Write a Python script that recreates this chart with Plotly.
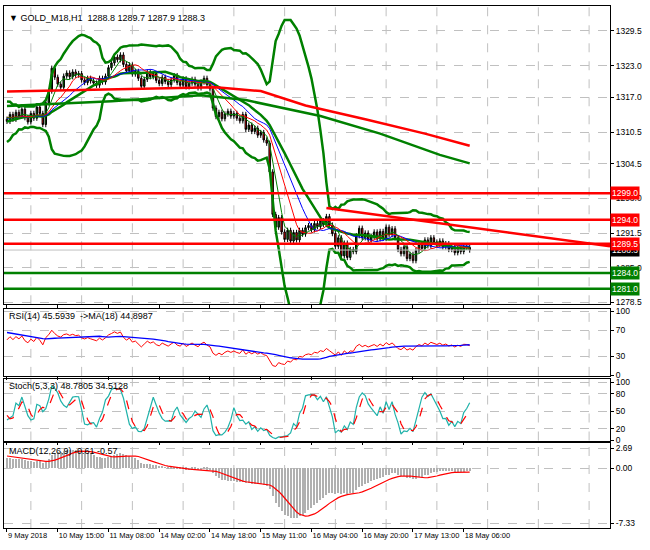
import numpy as np
import pandas as pd
import plotly.graph_objects as go
from plotly.subplots import make_subplots

history = [1306.0,1307.2,1306.5,1308.3,1309.0,1308.1,1310.2,1309.5,1311.0,1310.4,1312.2,1311.6,1313.0,1312.1,
           1313.5,1312.8,1314.0,1313.2,1312.6,1313.9,1313.0,1314.1,1312.8,1313.6,1312.9]
closes = [1312.5,1313.8,1312.9,1314.2,1313.5,1314.8,1313.2,1312.4,1314.0,1313.1,
          1315.2,1314.0,1311.9,1316.0,1318.2,1322.5,1320.8,
          1319.5,1318.9,1321.0,1321.6,1320.9,1321.8,1321.2,1321.5,1320.3,1319.8,1320.6,1320.1,1319.7,1319.3,1320.6,1319.9,1321.0,1322.6,
          1323.5,1324.6,1324.1,1325.0,1323.2,1322.0,1323.1,
          1321.4,1321.9,1320.6,1319.1,1320.4,1321.8,1320.9,
          1321.5,1320.2,1319.6,1320.8,1320.0,1319.4,1320.3,1321.1,1319.8,1319.3,1320.5,1319.0,1319.7,1320.4,1319.5,1318.8,1319.9,1320.6,1319.4,1318.6,
          1315.0,1313.4,1314.2,1313.0,1313.9,1314.4,1313.5,1314.0,1313.1,1312.6,1313.8,
          1311.0,1311.8,1310.6,1311.2,1309.9,1310.4,1309.0,1308.4,
          1303.0,1295.0,1292.6,1294.4,1291.7,1290.3,1292.0,1290.0,
          1291.6,1290.2,1292.0,1291.3,1292.5,1292.9,1292.1,1293.3,1292.7,1293.8,1293.1,
          1294.6,1293.0,
          1291.4,1289.0,1290.6,1287.2,1289.6,1286.9,1288.4,1288.0,
          1291.0,1292.4,1290.6,1291.5,1290.2,1290.8,1291.7,1290.4,1291.8,1290.5,1292.6,1291.2,1292.3,1290.6,
          1288.4,1287.6,1288.9,1286.7,1287.5,1286.3,1288.2,
          1289.4,1288.6,1290.2,1289.1,1290.6,1289.8,
          1289.3,1290.0,1288.9,1289.5,1288.4,1288.9,1287.8,1288.6,1288.0,1288.9,1288.8,1288.3]

ma200_x = [0,40,70,85,100,120,140,155]
ma200_y = [1318.1,1318.5,1318.9,1318.2,1315.5,1312.9,1310.2,1307.9]
ma100_x = [0,35,65,80,105,125,145,155]
ma100_y = [1315.4,1316.3,1317.4,1316.5,1313.5,1310.2,1306.2,1304.6]

red_levels = [1299.0,1294.0,1289.5]
green_levels = [1284.0,1281.0]
last_price = 1288.3
trend_x = [107, 202]
trend_y = [1296.2, 1289.0]

tick_pos = [0,17,34,51,68,85,102,119,136,153]
tick_txt = ["9 May 2018","10 May 15:00","11 May 08:00","14 May 02:00","14 May 18:00",
            "15 May 11:00","16 May 04:00","16 May 20:00","17 May 13:00","18 May 06:00"]
grid_pos = [8,25,42,59,76,93,110,127,144,161,178,195]
price_ticks = [1329.5,1323.0,1317.0,1310.5,1304.5,1298.0,1291.5,1285.0,1278.5]

H = len(history)
allc = pd.Series(history + closes)
opens = allc.shift(1).fillna(allc.iloc[0])
highs = np.maximum(opens, allc) + 0.5
lows = np.minimum(opens, allc) - 0.5
N = len(closes)
x = np.arange(N)
sl = slice(H, H + N)

sma = lambda s, n: s.rolling(n, min_periods=1).mean()
ma5, ma10, ma15 = sma(allc, 5), sma(allc, 10), sma(allc, 15)
mid = allc.rolling(20, min_periods=5).mean()
sd = allc.rolling(20, min_periods=5).std(ddof=0)
up, lo = mid + 3 * sd, mid - 3 * sd

d = allc.diff().fillna(0)
g = d.clip(lower=0).ewm(alpha=1/14, adjust=False).mean()
l = (-d.clip(upper=0)).ewm(alpha=1/14, adjust=False).mean()
rsi = 100 - 100 / (1 + g / l.replace(0, 1e-9))
rsima = sma(rsi, 18)

hh = highs.rolling(5, min_periods=1).max(); ll = lows.rolling(5, min_periods=1).min()
k = sma(allc - ll, 3) / sma(hh - ll, 3) * 100
dd = sma(k, 3)

macd = allc.ewm(span=12, adjust=False).mean() - allc.ewm(span=26, adjust=False).mean()
sig = sma(macd, 9)

fig = make_subplots(rows=4, cols=1, shared_xaxes=True)
fig.add_trace(go.Candlestick(x=x, open=opens[sl], high=highs[sl], low=lows[sl], close=allc[sl],
    increasing=dict(line=dict(color="black", width=1), fillcolor="#008000"),
    decreasing=dict(line=dict(color="black", width=1), fillcolor="#ff0000"), whiskerwidth=0), 1, 1)
for ser, c, w in [(up, "green", 2.5), (mid, "green", 2.5), (lo, "green", 2.5),
                  (ma15, "blue", 1), (ma10, "red", 1), (ma5, "green", 1)]:
    fig.add_trace(go.Scatter(x=x, y=ser[sl], mode="lines", line=dict(color=c, width=w)), 1, 1)
fig.add_trace(go.Scatter(x=ma200_x, y=ma200_y, mode="lines", line=dict(color="red", width=2.5)), 1, 1)
fig.add_trace(go.Scatter(x=ma100_x, y=ma100_y, mode="lines", line=dict(color="green", width=2.5)), 1, 1)
fig.add_trace(go.Scatter(x=trend_x, y=trend_y, mode="lines", line=dict(color="red", width=2.5)), 1, 1)

fig.add_trace(go.Scatter(x=x, y=rsi[sl], mode="lines", line=dict(color="red", width=1)), 2, 1)
fig.add_trace(go.Scatter(x=x, y=rsima[sl], mode="lines", line=dict(color="blue", width=1.3)), 2, 1)
fig.add_trace(go.Scatter(x=x, y=k[sl], mode="lines", line=dict(color="#20b2aa", width=1.2)), 3, 1)
fig.add_trace(go.Scatter(x=x, y=dd[sl], mode="lines", line=dict(color="red", width=1.2, dash="dash")), 3, 1)
fig.add_trace(go.Bar(x=x, y=macd[sl], marker=dict(color="#b0b0b0", line=dict(width=0)), width=0.35), 4, 1)
fig.add_trace(go.Scatter(x=x, y=sig[sl], mode="lines", line=dict(color="red", width=1.2)), 4, 1)

for i in range(4):
    n = "" if i == 0 else str(i + 1)
    for gp in grid_pos:
        fig.add_shape(type="line", xref="x" + n, x0=gp, x1=gp, yref="y" + n + " domain", y0=0, y1=1,
                      line=dict(color="#c0c0c0", width=1, dash="dash"), layer="below")

for lv in red_levels:
    fig.add_shape(type="line", xref="x domain", x0=0, x1=1, yref="y", y0=lv, y1=lv, line=dict(color="red", width=2.5))
for lv in green_levels:
    fig.add_shape(type="line", xref="x domain", x0=0, x1=1, yref="y", y0=lv, y1=lv, line=dict(color="green", width=2.5))
fig.add_shape(type="line", xref="x domain", x0=0, x1=1, yref="y", y0=last_price, y1=last_price, line=dict(color="#c0c0c0", width=1))

FAM = "Liberation Sans"
FS = 8.5
font = dict(family=FAM, size=FS, color="black")
def box(v, bg):
    fig.add_annotation(x=1.0, xref="paper", xanchor="left", y=v, yref="y", text=f"{v:.1f}", showarrow=False,
                       bgcolor=bg, font=dict(family=FAM, size=FS, color="white"), borderpad=1)
box(last_price, "black")
for lv in red_levels: box(lv, "red")
for lv in green_levels: box(lv, "green")

for txt, yr, yv in [("▼ GOLD_M18,H1  1288.8 1289.7 1287.9 1288.3", "y", 1332.0),
                    ("RSI(14) 45.5939  ->MA(18) 44.8987", "y2", 92),
                    ("Stoch(5,3,3) 48.7805 34.5128", "y3", 94),
                    ("MACD(12,26,9) -0.61 -0.57", "y4", 2.3)]:
    fig.add_annotation(x=0.005, xref="paper", xanchor="left", y=yv, yref=yr, text=txt, showarrow=False,
                       font=dict(family=FAM, size=9, color="black"))

ax = dict(showline=True, linecolor="black", linewidth=1, mirror=True, gridcolor="#c0c0c0",
          griddash="dash", zeroline=False, tickfont=font, ticks="outside", ticklen=3, tickcolor="black")
doms = [[0.4286, 1.0], [0.2914, 0.419], [0.1676, 0.2857], [0.0, 0.1619]]
for i in range(4):
    n = "" if i == 0 else str(i + 1)
    fig.layout["xaxis" + n].update(ax, showgrid=False, range=[-1, 202], tickvals=tick_pos, ticktext=tick_txt,
                                   showticklabels=(i == 3), rangeslider=dict(visible=False), tickangle=0)
    fig.layout["yaxis" + n].update(ax, showgrid=True, side="right", domain=doms[i])
fig.layout.yaxis.update(range=[1278.1, 1334.2], tickvals=price_ticks, ticktext=[f"{v:.1f}" for v in price_ticks])
fig.layout.yaxis2.update(range=[-1, 103], tickvals=[0, 30, 70, 100])
fig.layout.yaxis3.update(range=[0, 106], tickvals=[0, 20, 50, 80, 100])
fig.layout.yaxis4.update(range=[-7.95, 3.3], tickvals=[-7.33, 0, 2.69], ticktext=["-7.33", "0.00", "2.69"])
fig.layout.xaxis4.update(ticklabelposition="outside right", tickfont=dict(family=FAM, size=7.5, color="black"))

fig.update_layout(width=650, height=550, margin=dict(l=3, r=40, t=3, b=22), showlegend=False,
                  plot_bgcolor="white", paper_bgcolor="white", bargap=0)
fig.write_html("out.html", config={"displayModeBar": False},
               post_script="document.body.style.margin='0';document.body.style.overflow='hidden';")
